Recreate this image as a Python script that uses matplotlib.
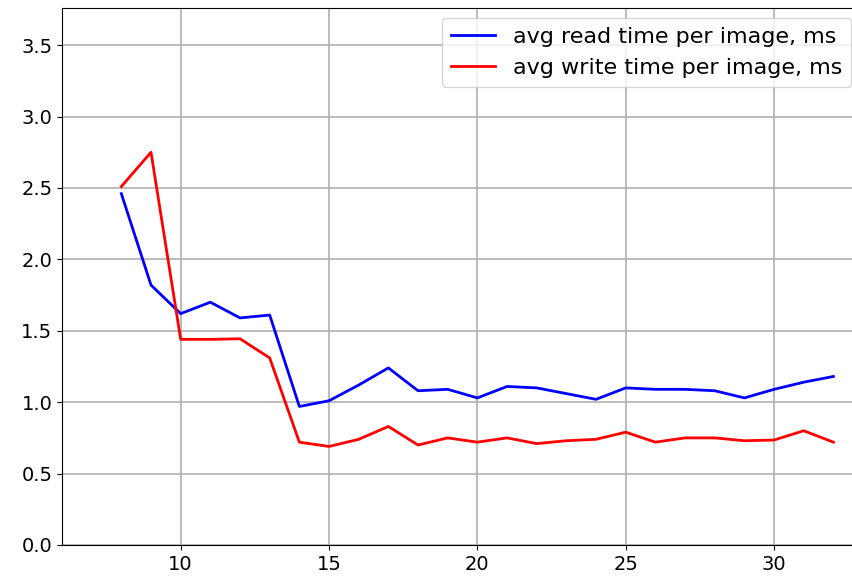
import matplotlib
matplotlib.use("Agg")
import matplotlib.pyplot as plt

# threads / batch size on x, milliseconds on y
x = list(range(8, 33))
read_ms = [2.46, 1.82, 1.62, 1.70, 1.59, 1.61, 0.97, 1.01, 1.12, 1.24,
           1.08, 1.09, 1.03, 1.11, 1.10, 1.06, 1.02, 1.10, 1.09, 1.09,
           1.08, 1.03, 1.09, 1.14, 1.18]
write_ms = [2.51, 2.75, 1.44, 1.44, 1.444, 1.31, 0.72, 0.69, 0.74, 0.83,
            0.70, 0.75, 0.72, 0.75, 0.71, 0.73, 0.74, 0.79, 0.72, 0.75,
            0.75, 0.73, 0.735, 0.80, 0.72]

fig = plt.figure(figsize=(8.53, 5.82), dpi=100)
# the source picture is cropped on the right, so the axes run past the edge
ax = fig.add_axes([62 / 853, 1 - 545 / 582, (861 - 62) / 853, (545 - 8) / 582])

ax.plot(x, read_ms, color="blue", lw=2, label="avg read time per image, ms")
ax.plot(x, write_ms, color="red", lw=2, label="avg write time per image, ms")

ax.set_xlim(6.0, 32.93)
ax.set_ylim(0, 3.76)
ax.set_xticks([10, 15, 20, 25, 30])
ax.set_yticks([0.0, 0.5, 1.0, 1.5, 2.0, 2.5, 3.0, 3.5])
ax.tick_params(labelsize=14)
ax.grid(True, color="#b0b0b0", lw=1.2)
ax.legend(loc="upper right", fontsize=16, borderaxespad=0.45)

fig.savefig("out.png", dpi=100)
